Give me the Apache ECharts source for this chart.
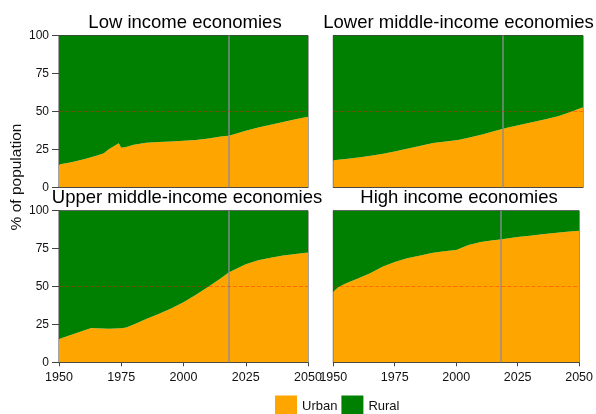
<!DOCTYPE html>
<html>
<head>
<meta charset="utf-8">
<script src="https://cdn.jsdelivr.net/npm/echarts@6/dist/echarts.min.js"></script>
<style>
  html, body { margin: 0; padding: 0; background: #fff; }
  #chart { width: 596px; height: 414px; }
</style>
</head>
<body>
<div id="chart"></div>
<script>
// Urban share of population (%) by income group, 1950-2050; rural share is the remainder.
const panelTitles = ['Low income economies', 'Lower middle-income economies',
                     'Upper middle-income economies', 'High income economies'];

const lowYears   = [1950,1955,1960,1965,1968,1970,1974,1975,1977,1980,1985,1990,1995,2000,2005,2010,2015,2018,2020,2025,2030,2035,2040,2045,2050];
const lowUrban   = [15,16.5,18.5,20.8,22.5,25,29,26,26.5,28,29.3,29.8,30.2,30.6,31.2,32.2,33.4,34,34.8,37.3,39.4,41.2,43,44.8,46.5];

const lowerYears = [1950,1955,1960,1965,1970,1975,1980,1985,1990,1995,2000,2005,2010,2015,2018,2020,2025,2030,2035,2040,2045,2050];
const lowerUrban = [17.8,18.6,19.7,20.8,22.1,23.8,25.6,27.4,29.2,30.2,31.2,33,35,37.3,38.6,39.4,41.2,43,44.8,46.8,49.6,52.8];

const upperYears = [1950,1955,1960,1963,1965,1970,1975,1977,1980,1985,1990,1995,2000,2005,2010,2015,2018,2020,2025,2030,2035,2040,2045,2050];
const upperUrban = [15.4,18.2,21,22.6,22.4,22.2,22.5,23,25,28.6,31.8,35.5,39.6,44.6,49.8,55.5,59,60.8,64.6,67.3,69,70.4,71.5,72.4];

const highYears  = [1950,1952,1955,1960,1965,1970,1975,1980,1985,1990,1995,2000,2005,2010,2015,2018,2020,2025,2030,2035,2040,2045,2050];
const highUrban  = [46.6,49.5,52,55.3,58.8,63,66.2,68.7,70.3,72.1,73.2,74,77.4,79.4,80.5,81,81.5,82.6,83.5,84.4,85.3,86.1,86.8];

const xTicks = [1950, 1975, 2000, 2025, 2050];
const yTicks = [0, 25, 50, 75, 100];
const currentYear = 2018;
const halfLine = 50;

const panels = [
  { years: lowYears,   urban: lowUrban },
  { years: lowerYears, urban: lowerUrban },
  { years: upperYears, urban: upperUrban },
  { years: highYears,  urban: highUrban }
];

const FONT = '"Liberation Sans", Arial, sans-serif';
const ORANGE = '#FFA500';
const GREEN = '#008000';

// panel boxes: two columns, two rows
const gridBoxes = [
  { left: 59,    top: 35.5,  width: 249,   height: 151.8 },
  { left: 333.3, top: 35.5,  width: 249.7, height: 151.8 },
  { left: 59,    top: 210.7, width: 249,   height: 151.6 },
  { left: 333.3, top: 210.7, width: 249.7, height: 151.6 }
];

const grid = gridBoxes.map(b => Object.assign({
  show: true, borderColor: '#444', borderWidth: 1, backgroundColor: 'transparent'
}, b));

const xAxis = gridBoxes.map((b, i) => {
  const bottomRow = i >= 2;
  return {
    type: 'value', gridIndex: i,
    min: xTicks[0], max: xTicks[xTicks.length - 1],
    interval: xTicks[1] - xTicks[0],
    axisLine: { show: true, onZero: false, lineStyle: { color: '#444', width: 1 } },
    axisTick: { show: bottomRow, length: 4, lineStyle: { color: '#444' } },
    axisLabel: {
      show: bottomRow, margin: 9, color: '#111', fontSize: 12.5, fontFamily: FONT,
      formatter: v => String(v)
    },
    splitLine: { show: false }
  };
});

// each panel has a visible share axis (0 at the bottom) for the urban share
// and a hidden, reversed one (0 at the top) so the rural share fills down from 100 %
const yAxis = [];
gridBoxes.forEach((b, i) => {
  const leftCol = i % 2 === 0;
  yAxis.push({
    type: 'value', gridIndex: i,
    min: yTicks[0], max: yTicks[yTicks.length - 1],
    interval: yTicks[1] - yTicks[0],
    axisLine: { show: true, onZero: false, lineStyle: { color: '#444', width: 1 } },
    axisTick: { show: leftCol, length: 7, lineStyle: { color: '#444' } },
    axisLabel: { show: leftCol, margin: 10, color: '#111', fontSize: 12, fontFamily: FONT },
    splitLine: { show: false }
  });
});
gridBoxes.forEach((b, i) => {
  yAxis.push({
    type: 'value', gridIndex: i, inverse: true, position: 'right',
    min: yTicks[0], max: yTicks[yTicks.length - 1],
    show: false, splitLine: { show: false }
  });
});

const series = [];
panels.forEach((p, i) => {
  const urbanData = p.years.map((y, k) => [y, p.urban[k]]);
  const ruralData = p.years.map((y, k) => [y, 100 - p.urban[k]]);
  series.push({
    name: 'Urban', type: 'line', xAxisIndex: i, yAxisIndex: i,
    data: urbanData, symbol: 'none', silent: true, z: 2,
    lineStyle: { width: 0 }, itemStyle: { color: ORANGE },
    areaStyle: { color: ORANGE, opacity: 1, origin: 'start' }
  });
  series.push({
    name: 'Rural', type: 'line', xAxisIndex: i, yAxisIndex: i + 4,
    data: ruralData, symbol: 'none', silent: true, z: 2,
    lineStyle: { width: 0 }, itemStyle: { color: GREEN },
    areaStyle: { color: GREEN, opacity: 1, origin: 'start' }
  });
  // reference lines: current year and the 50 % mark
  series.push({
    type: 'line', xAxisIndex: i, yAxisIndex: i, data: [], silent: true, z: 5,
    markLine: {
      silent: true, symbol: 'none', label: { show: false }, animation: false,
      data: [
        { xAxis: currentYear, lineStyle: { color: 'rgba(140,140,150,0.85)', width: 1.6, type: 'solid' } },
        { yAxis: halfLine, lineStyle: { color: 'rgba(255,20,0,0.4)', width: 1, type: [4, 2] } }
      ]
    }
  });
});

const titleCenters = [185, 458.5, 187, 459];
const titleTops = [13.5, 13.5, 188.5, 188.5];
const title = panelTitles.map((t, i) => ({
  text: t, left: titleCenters[i], top: titleTops[i], textAlign: 'center', padding: 0,
  textStyle: { fontSize: 18.5, fontWeight: 'normal', color: '#000', fontFamily: FONT }
}));

const chart = echarts.init(document.getElementById('chart'), null, { renderer: 'canvas' });
chart.setOption({
  animation: false,
  backgroundColor: '#fff',
  title: title,
  grid: grid,
  xAxis: xAxis,
  yAxis: yAxis,
  legend: {
    data: ['Urban', 'Rural'], left: 275, top: 395.5, padding: 0,
    itemWidth: 22, itemHeight: 22, itemGap: 4, icon: 'rect',
    selectedMode: false,
    textStyle: { fontSize: 13, color: '#111', fontFamily: FONT }
  },
  graphic: [{
    type: 'text', x: 16.5, y: 177, rotation: Math.PI / 2,
    style: {
      text: '% of population', fill: '#111', font: '15.5px ' + FONT,
      align: 'center', verticalAlign: 'middle',
      textAlign: 'center', textVerticalAlign: 'middle'
    }
  }],
  series: series
});
</script>
</body>
</html>
